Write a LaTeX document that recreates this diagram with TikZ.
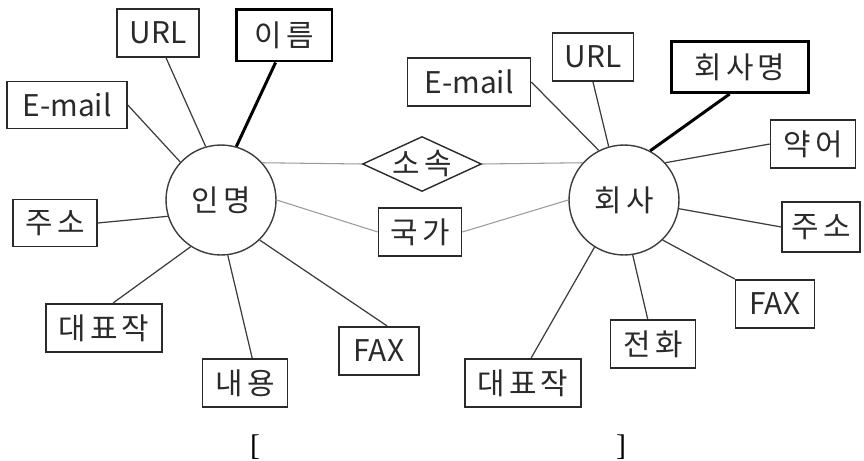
\documentclass[tikz,border=0pt]{standalone}
\usepackage{fontspec}
\setmainfont{Noto Sans CJK KR}
\newfontfamily\kofont[LetterSpace=14]{Noto Sans CJK KR}
\newfontfamily\bracketfont{Liberation Serif}
\usepackage{xcolor}
\usetikzlibrary{shapes.geometric}
\definecolor{erink}{HTML}{2A2A2A}
\definecolor{erline}{HTML}{3C3C3C}
\definecolor{erpale}{HTML}{9A9A9A}
\tikzstyle{entity} = [draw=erline, shape=circle, minimum size=2.2cm, inner sep=0pt, line width=.8pt, text=erink]
\tikzstyle{attr} = [draw=erink, shape=rectangle, minimum height=.97cm, inner sep=0pt, line width=.9pt, text=erink]
\tikzstyle{keyattr} = [attr, draw=black, line width=1.7pt]
\tikzstyle{rel} = [draw=erink, shape=diamond, aspect=2.16, minimum width=2.38cm, minimum height=1.1cm, inner sep=-1pt, line width=.8pt, text=erink]
\tikzset{
  % Hangul labels are set a little spread out, Latin labels are not
  ko/.style={font=\kofont\fontsize{17}{19}\selectfont},
  % spokes are thin dark grey, the key attribute gets a heavy black line
  spoke/.style={draw=erline, line width=.7pt},
  keyspoke/.style={draw=black, line width=1.7pt},
  link/.style={draw=erpale, line width=.6pt},
}

\begin{document}
\begin{tikzpicture}[x=0.02cm, y=-0.02cm, font=\fontsize{17}{19}\selectfont]
    \useasboundingbox (0,0) rectangle (864,460);
    % two entities
    \draw (221,200) node[entity, ko] (inmyeong) {인명};
    \draw (624,200) node[entity, ko] (hoesa) {회사};
    % relationship and shared attribute
    \draw (422,164) node[rel, ko] (sosok) {소속};
    \draw (420,232) node[attr, ko, minimum width=1.66cm] (gukga) {국가};
    % attributes of 인명
    \draw (158,33) node[attr, minimum width=1.64cm] (url1) {URL};
    \draw (284,35) node[keyattr, ko, minimum width=1.92cm, minimum height=1.04cm] (ireum) {이름};
    \draw (67,105) node[attr, minimum width=2.4cm, minimum height=.94cm] (email1) {E-mail};
    \draw (55,223) node[attr, ko, minimum width=1.68cm, minimum height=.94cm] (juso1) {주소};
    \draw (104,328) node[attr, ko, minimum width=2.32cm] (daepyo1) {대표작};
    \draw (245,383) node[attr, ko, minimum width=1.7cm] (naeyong) {내용};
    \draw (379,351) node[attr, minimum width=1.6cm] (fax1) {FAX};
    % attributes of 회사
    \draw (469,82) node[attr, minimum width=2.46cm] (email2) {E-mail};
    \draw (593,57) node[attr, minimum width=1.62cm] (url2) {URL};
    \draw (740,67) node[keyattr, ko, minimum width=2.74cm, minimum height=1.02cm] (hoesamyeong) {회사명};
    \draw (813,144) node[attr, ko, minimum width=1.7cm] (yakeo) {약어};
    \draw (821,227) node[attr, ko, minimum width=1.56cm, minimum height=1cm] (juso2) {주소};
    \draw (775,304) node[attr, minimum width=1.58cm] (fax2) {FAX};
    \draw (653,344) node[attr, ko, minimum width=1.7cm] (jeonhwa) {전화};
    \draw (523,383) node[attr, ko, minimum width=2.32cm] (daepyo2) {대표작};
    % spokes
    \draw [spoke] (url1.288) -- (inmyeong.106);
    \draw [keyspoke] (ireum.253) -- (inmyeong.74);
    \draw [spoke] (email1.east) -- (inmyeong.137);
    \draw [spoke] (juso1.east) -- (inmyeong.197);
    \draw [spoke] (daepyo1.70) -- (inmyeong.237);
    \draw [spoke] (naeyong.74) -- (inmyeong.277);
    \draw [spoke] (fax1.72) -- (inmyeong.314);
    \draw [spoke] (email2.east) -- (hoesa.117);
    \draw [spoke] (url2.south) -- (hoesa.106);
    \draw [keyspoke] (hoesamyeong.249) -- (hoesa.62);
    \draw [spoke] (yakeo.west) -- (hoesa.42);
    \draw [spoke] (juso2.west) -- (hoesa.351);
    \draw [spoke] (fax2.north west) -- (hoesa.314);
    \draw [spoke] (jeonhwa.102) -- (hoesa.279);
    \draw [spoke] (daepyo2.72) -- (hoesa.238);
    % links through the middle
    \draw [link] (inmyeong.42) -- (sosok.west);
    \draw [link] (sosok.east) -- (hoesa.138);
    \draw [link] (inmyeong.east) -- (gukga.west);
    \draw [link] (gukga.east) -- (hoesa.west);
    % caption brackets
    \node [font=\bracketfont\fontsize{17}{19}\selectfont] (lbr) at (255,447) {[};
    \node [font=\bracketfont\fontsize{17}{19}\selectfont] (rbr) at (621,447) {]};
\end{tikzpicture}
\end{document}
